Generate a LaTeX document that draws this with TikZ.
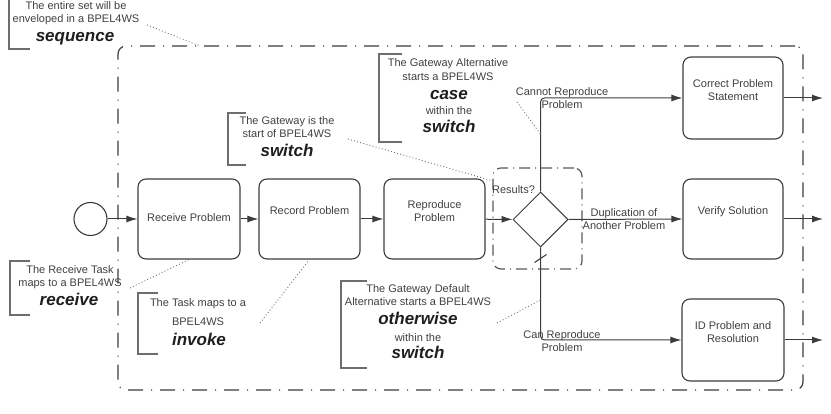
\documentclass[tikz,border=0pt]{standalone}
\usepackage{fontspec}
\setmainfont{Liberation Sans}
\usetikzlibrary{shapes.geometric,arrows.meta,calc}
\definecolor{ln}{HTML}{3C3C3C}
\definecolor{tx}{HTML}{404040}
\definecolor{bt}{HTML}{1E1E1E}
\definecolor{dt}{HTML}{6E6E6E}
\begin{document}
\begin{tikzpicture}[x=1pt,y=-1pt,
  task/.style={draw=ln, line width=1.1pt, rounded corners=8pt, minimum width=102pt, minimum height=80pt, inner sep=0pt},
  flow/.style={draw=ln, line width=1pt, -{Latex[length=11pt,width=7pt]}},
  plain/.style={draw=ln, line width=1pt},
  lbl/.style={text=tx, font=\fontsize{11}{13}\selectfont, align=center, inner sep=0pt},
  ann/.style={text=tx, font=\fontsize{11}{13}\selectfont, anchor=base, inner sep=0pt},
  annb/.style={text=bt, font=\fontsize{17}{17}\selectfont\bfseries\itshape, anchor=base, inner sep=0pt},
  bracket/.style={draw=dt, line width=1.1pt},
  assoc/.style={draw=dt, line width=0.9pt, dash pattern=on 0.9pt off 2.3pt},
  grp/.style={draw=ln, line width=1.2pt, rounded corners=8pt, inner sep=0pt},
]
\useasboundingbox (0,0) rectangle (831,414);

% groups
\node[grp, dash pattern=on 15pt off 8pt on 1pt off 8pt, minimum width=685pt, minimum height=344pt] (proc) at (460.5,218) {};
\node[grp, draw=ln!85, dash pattern=on 11pt off 5pt on 1pt off 5pt, minimum width=89pt, minimum height=101pt] (gwg) at (537.5,218.5) {};

% start event
\node[draw=ln, line width=1.1pt, circle, minimum size=33pt, inner sep=0pt] (start) at (90.5,219) {};

% tasks
\node[task] (recv) at (189,219) {};
\node[task, minimum width=101pt] (rec) at (309.5,219) {};
\node[task, minimum width=101pt] (repr) at (434.5,219) {};
\node[task, minimum width=100pt, minimum height=82pt] (cps) at (733,98) {};
\node[task, minimum width=100pt] (vs) at (733,219) {};
\node[task, minimum height=82pt] (idp) at (733,340) {};

\node[lbl] (recvT) at ([yshift=1pt]recv.center) {Receive Problem};
\node[lbl] (recT) at ([yshift=8pt]rec.center) {Record Problem};
\node[lbl] (reprT) at ([yshift=7.5pt]repr.center) {Reproduce\\Problem};
\node[lbl] (cpsT) at ([yshift=7.5pt]cps.center) {Correct Problem\\Statement};
\node[lbl] (vsT) at ([yshift=7pt]vs.center) {Verify Solution};
\node[lbl] (idpT) at ([yshift=7.5pt]idp.center) {ID Problem and\\Resolution};

% gateway
\node[draw=ln, line width=1pt, diamond, aspect=1, minimum width=55pt, minimum height=55pt, inner sep=0pt] (gw) at (540.5,219.5) {};
\node[lbl] (gwT) at (513.5,190) {Results?};

% sequence flows
\draw[flow] (start) -- (recv);
\draw[flow] (recv) -- (rec);
\draw[flow] (rec) -- (repr);
\draw[flow] (repr) -- (gw);
\draw[flow, rounded corners=4pt] (gw.north) |- (cps.west);
\draw[flow] (gw.east) -- (vs.west);
\draw[flow, rounded corners=4pt] (gw.south) |- (idp.west);
\draw[plain] ($(gw.south)+(-6,15)$) coordinate (dfa) -- ($(gw.south)+(6,7)$) coordinate (dfb);

\coordinate (o1) at (823,98);
\coordinate (o2) at (823,219);
\coordinate (o3) at (823,340);
\draw[flow] (cps.east) -- (o1);
\draw[flow] (vs.east) -- (o2);
\draw[flow] (idp.east) -- (o3);

% flow labels
\node[lbl] (l1) at (562,98.5) {Cannot Reproduce\\Problem};
\node[lbl] (l2) at (624,219) {Duplication of\\Another Problem};
\node[lbl] (l3) at (562,341.5) {Can Reproduce\\Problem};

% annotation 1
\draw[bracket] (30,-3) -- (9,-3) -- (9,49) -- (30,49);
\node[ann] (a1a) at (76,10) {The entire set will be};
\node[ann] (a1b) at (76,23) {enveloped in a BPEL4WS};
\node[annb] (a1c) at (75,42) {sequence};
\coordinate (a1s) at (147,25);
\coordinate (a1e) at (200,46);
\draw[assoc] (a1s) -- (a1e);

% annotation 2
\draw[bracket] (30,261) -- (10,261) -- (10,315) -- (30,315);
\node[ann] (a2a) at (70,274) {The Receive Task};
\node[ann] (a2b) at (70,287) {maps to a BPEL4WS};
\node[annb] (a2c) at (69,306) {receive};
\coordinate (a2s) at (130,288);
\draw[assoc] (a2s) -- (recv.south);

% annotation 3
\draw[bracket] (158,293) -- (138,293) -- (138,354) -- (158,354);
\node[ann] (a3a) at (198,307) {The Task maps to a};
\node[ann] (a3b) at (198,326) {BPEL4WS};
\node[annb] (a3c) at (199,345) {invoke};
\coordinate (a3s) at (260,323);
\draw[assoc] (a3s) -- (rec.south);

% annotation 4
\draw[bracket] (246,113) -- (228,113) -- (228,165) -- (246,165);
\node[ann] (a4a) at (287,125) {The Gateway is the};
\node[ann] (a4b) at (287,138) {start of BPEL4WS};
\node[annb] (a4c) at (287,157) {switch};
\coordinate (a4s) at (348,139);
\coordinate (a4e) at (493,181);
\draw[assoc] (a4s) -- (a4e);

% annotation 5
\draw[bracket] (402,54) -- (379,54) -- (379,142) -- (402,142);
\node[ann] (a5a) at (448,67) {The Gateway Alternative};
\node[ann] (a5b) at (448,81) {starts a BPEL4WS};
\node[annb] (a5c) at (449,100) {case};
\node[ann] (a5d) at (449,115) {within the};
\node[annb] (a5e) at (449,133) {switch};
\coordinate (a5s) at (517,102);
\coordinate (a5t) at (540.5,134);
\draw[assoc] (a5s) -- (a5t);

% annotation 6
\draw[bracket] (367,281) -- (341,281) -- (341,368) -- (367,368);
\node[ann] (a6a) at (418,293) {The Gateway Default};
\node[ann] (a6b) at (418,306) {Alternative starts a BPEL4WS};
\node[annb] (a6c) at (418,325) {otherwise};
\node[ann] (a6d) at (418,342) {within the};
\node[annb] (a6e) at (418,359) {switch};
\coordinate (a6s) at (497,323);
\coordinate (a6t) at (540.5,300);
\draw[assoc] (a6s) -- (a6t);

% caption (only its top shows at the page edge, as in the source)
\node[anchor=base, inner sep=0pt, text=bt, font=\fontsize{19}{19}\selectfont\bfseries\itshape] (cap) at (471.5,437) {Figure 3.13 A Business Process Diagram with mappings to BPEL4WS [78]};
\end{tikzpicture}
\end{document}
